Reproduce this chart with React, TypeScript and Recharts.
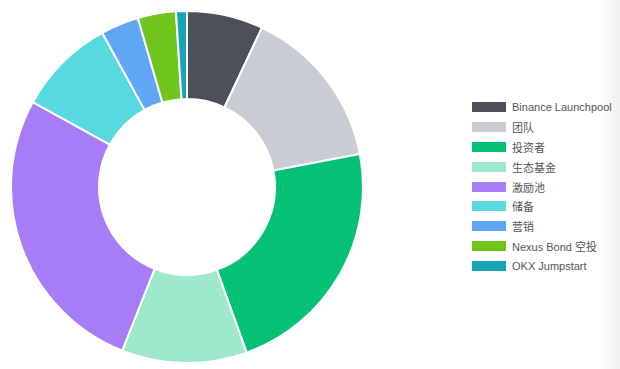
import { PieChart, Pie, Cell, Legend } from "recharts";

const names = ["Binance Launchpool", "团队", "投资者", "生态基金", "激励池", "储备", "营销", "Nexus Bond 空投", "OKX Jumpstart"];
const shares = [7, 15, 22.5, 11.5, 27, 9, 3.5, 3.5, 1];
const colors = ["#4b5059", "#c9ccd3", "#05c175", "#9ee8cc", "#a77cf7", "#58d9df", "#5fa7f5", "#6fc51c", "#17a5b5"];

const data = names.map((name, i) => ({ name, value: shares[i] }));

// keep the legend in data order (recharts sorts payload by default)
function LegendList() {
  return (
    <div>
      {names.map((n, i) => (
        <div key={n} style={{ display: "flex", alignItems: "center", height: 19.9 }}>
          <span style={{ width: 34, height: 10, background: colors[i], display: "inline-block", marginRight: 6 }} />
          <span style={{ fontSize: 11, color: "#555", fontFamily: "'Liberation Sans', 'Noto Sans CJK SC', sans-serif" }}>{n}</span>
        </div>
      ))}
    </div>
  );
}

export default function App() {
  return (
    <div style={{ position: "absolute", left: 0, top: 0, width: 620, height: 369, background: "#fff", overflow: "hidden" }}>
      <PieChart width={620} height={369} margin={{ top: 0, right: 0, bottom: 0, left: 0 }}>
        <Pie
          data={data}
          dataKey="value"
          nameKey="name"
          cx={187}
          cy={187}
          innerRadius={88}
          outerRadius={176}
          startAngle={90}
          endAngle={-270}
          stroke="#fff"
          strokeWidth={2}
          isAnimationActive={false}
        >
          {data.map((d, i) => (
            <Cell key={d.name} fill={colors[i]} />
          ))}
        </Pie>
        <Legend
          layout="vertical"
          content={<LegendList />}
          wrapperStyle={{ left: 472, top: 97, width: 140 }}
        />
      </PieChart>
      <div style={{ position: "absolute", right: 0, top: 0, width: 22, height: 369, background: "linear-gradient(to right, rgba(0,0,0,0), rgba(0,0,0,0.06))" }} />
    </div>
  );
}
